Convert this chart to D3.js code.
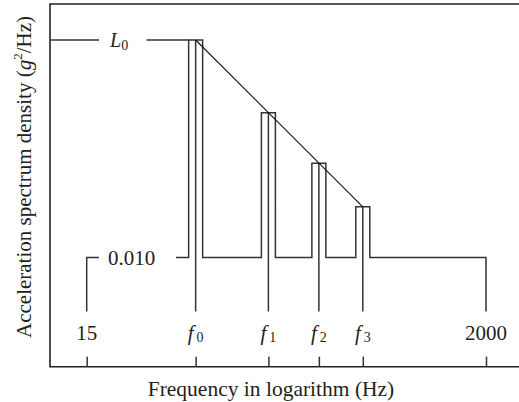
<!DOCTYPE html>
<html>
<head>
<meta charset="utf-8">
<script src="https://cdn.jsdelivr.net/npm/d3@7"></script>
<style>
  html, body { margin: 0; padding: 0; background: #fff; }
  svg { display: block; }
  text { font-family: "Liberation Serif", "DejaVu Serif", serif; fill: #231f20; }
</style>
</head>
<body>
<svg id="chart" width="519" height="402"></svg>
<script>
// ---- data ----
const freqRange = [15, 2000];                 // Hz, end frequencies
const rangeLabels = ["15", "2000"];
const peakNames = ["0", "1", "2", "3"];       // subscripts of f
const peakFreqs = [57, 139, 258, 442];        // schematic peak frequencies (Hz)
const peakLevels = [0.1, 0.0463, 0.0271, 0.0171]; // g^2/Hz (L0 at top)
const baseLevel = 0.010;
const baseLabel = "0.010";
const topLabel = "L";
const topLabelSub = "0";

// ---- layout ----
const W = 519, H = 402;
const frameLeft = 50, frameTop = 4, frameBottom = 366.7;
const stemBottom = 311.5;
const tickLen = 10;
const halfBar = 7;
const lineColor = "#333";
const fs = 21;

const svg = d3.select("#chart");

const x = d3.scaleLog().domain(freqRange).range([86.7, 486]);
const y = d3.scaleLog().domain([baseLevel, peakLevels[0]]).range([257.5, 40]);

// frame (top, left, bottom axis)
const frame = d3.path();
frame.moveTo(W, frameTop);
frame.lineTo(frameLeft, frameTop);
frame.lineTo(frameLeft, frameBottom);
frame.lineTo(W, frameBottom);
svg.append("path").attr("d", frame.toString())
  .attr("fill", "none").attr("stroke", "#222").attr("stroke-width", 1.6);

// axis ticks at bottom using d3 axis
const tickVals = [freqRange[0], ...peakFreqs, freqRange[1]];
const axis = d3.axisTop(x).tickValues(tickVals).tickSize(tickLen).tickFormat("");
const axG = svg.append("g").attr("transform", `translate(0,${frameBottom})`).call(axis);
axG.select(".domain").remove();
axG.selectAll(".tick line").attr("stroke", lineColor).attr("stroke-width", 1.5);

// step profile
const p = d3.path();
p.moveTo(x(freqRange[0]), stemBottom);
p.lineTo(x(freqRange[0]), y(baseLevel));
peakFreqs.forEach((f, i) => {
  const l = x(f) - halfBar, r = x(f) + halfBar;
  p.lineTo(l, y(baseLevel));
  p.lineTo(l, y(peakLevels[i]));
  p.lineTo(r, y(peakLevels[i]));
  p.lineTo(r, y(baseLevel));
});
p.lineTo(x(freqRange[1]), y(baseLevel));
p.lineTo(x(freqRange[1]), stemBottom);
svg.append("path").attr("d", p.toString())
  .attr("fill", "none").attr("stroke", lineColor).attr("stroke-width", 1.5);

// stems at peak frequencies
svg.selectAll("line.stem").data(peakFreqs).enter().append("line")
  .attr("class", "stem")
  .attr("x1", d => x(d)).attr("x2", d => x(d))
  .attr("y1", stemBottom).attr("y2", (d, i) => y(peakLevels[i]))
  .attr("stroke", lineColor).attr("stroke-width", 1.5);

// L0 leader line
svg.append("line")
  .attr("x1", frameLeft).attr("x2", x(peakFreqs[0]) - halfBar)
  .attr("y1", y(peakLevels[0])).attr("y2", y(peakLevels[0]))
  .attr("stroke", lineColor).attr("stroke-width", 1.5);

// diagonal envelope
svg.append("line")
  .attr("x1", x(peakFreqs[0])).attr("y1", y(peakLevels[0]))
  .attr("x2", x(peakFreqs[3])).attr("y2", y(peakLevels[3]))
  .attr("stroke", "#111").attr("stroke-width", 1.1);

// gaps for labels
svg.append("rect").attr("x", 99).attr("y", y(baseLevel) - 8).attr("width", 77).attr("height", 16).attr("fill", "#fff");
svg.append("rect").attr("x", 99).attr("y", y(peakLevels[0]) - 8).attr("width", 47.5).attr("height", 16).attr("fill", "#fff");

// level labels
svg.append("text").attr("x", 131.5).attr("y", y(baseLevel) + 7)
  .attr("text-anchor", "middle").attr("font-size", fs).text(baseLabel);
const L0t = svg.append("text").attr("x", 110).attr("y", y(peakLevels[0]) + 7)
  .attr("font-size", 20);
L0t.append("tspan").attr("font-style", "italic").text(topLabel);
L0t.append("tspan").attr("font-size", 14).attr("dy", 3).text(topLabelSub);

// frequency labels
const labY = 340;
svg.append("text").attr("x", x(freqRange[0])).attr("y", labY)
  .attr("text-anchor", "middle").attr("font-size", fs).text(rangeLabels[0]);
svg.append("text").attr("x", x(freqRange[1])).attr("y", labY)
  .attr("text-anchor", "middle").attr("font-size", fs).text(rangeLabels[1]);
peakFreqs.forEach((f, i) => {
  const t = svg.append("text").attr("x", x(f)).attr("y", labY)
    .attr("text-anchor", "middle").attr("font-size", fs);
  t.append("tspan").attr("font-style", "italic").text("f");
  t.append("tspan").attr("font-size", 14).attr("dx", 3).attr("dy", 2).text(peakNames[i]);
});

// axis titles
svg.append("text").attr("x", 271).attr("y", 396)
  .attr("text-anchor", "middle").attr("font-size", 21.5).text("Frequency in logarithm (Hz)");
const yt = svg.append("text").attr("transform", "translate(31,177) rotate(-90)")
  .attr("text-anchor", "middle").attr("font-size", 21);
yt.append("tspan").text("Acceleration spectrum density (");
yt.append("tspan").attr("font-style", "italic").text("g");
yt.append("tspan").attr("font-size", 13).attr("dy", -9).text("2");
yt.append("tspan").attr("dy", 9).text("/Hz)");
</script>
</body>
</html>
